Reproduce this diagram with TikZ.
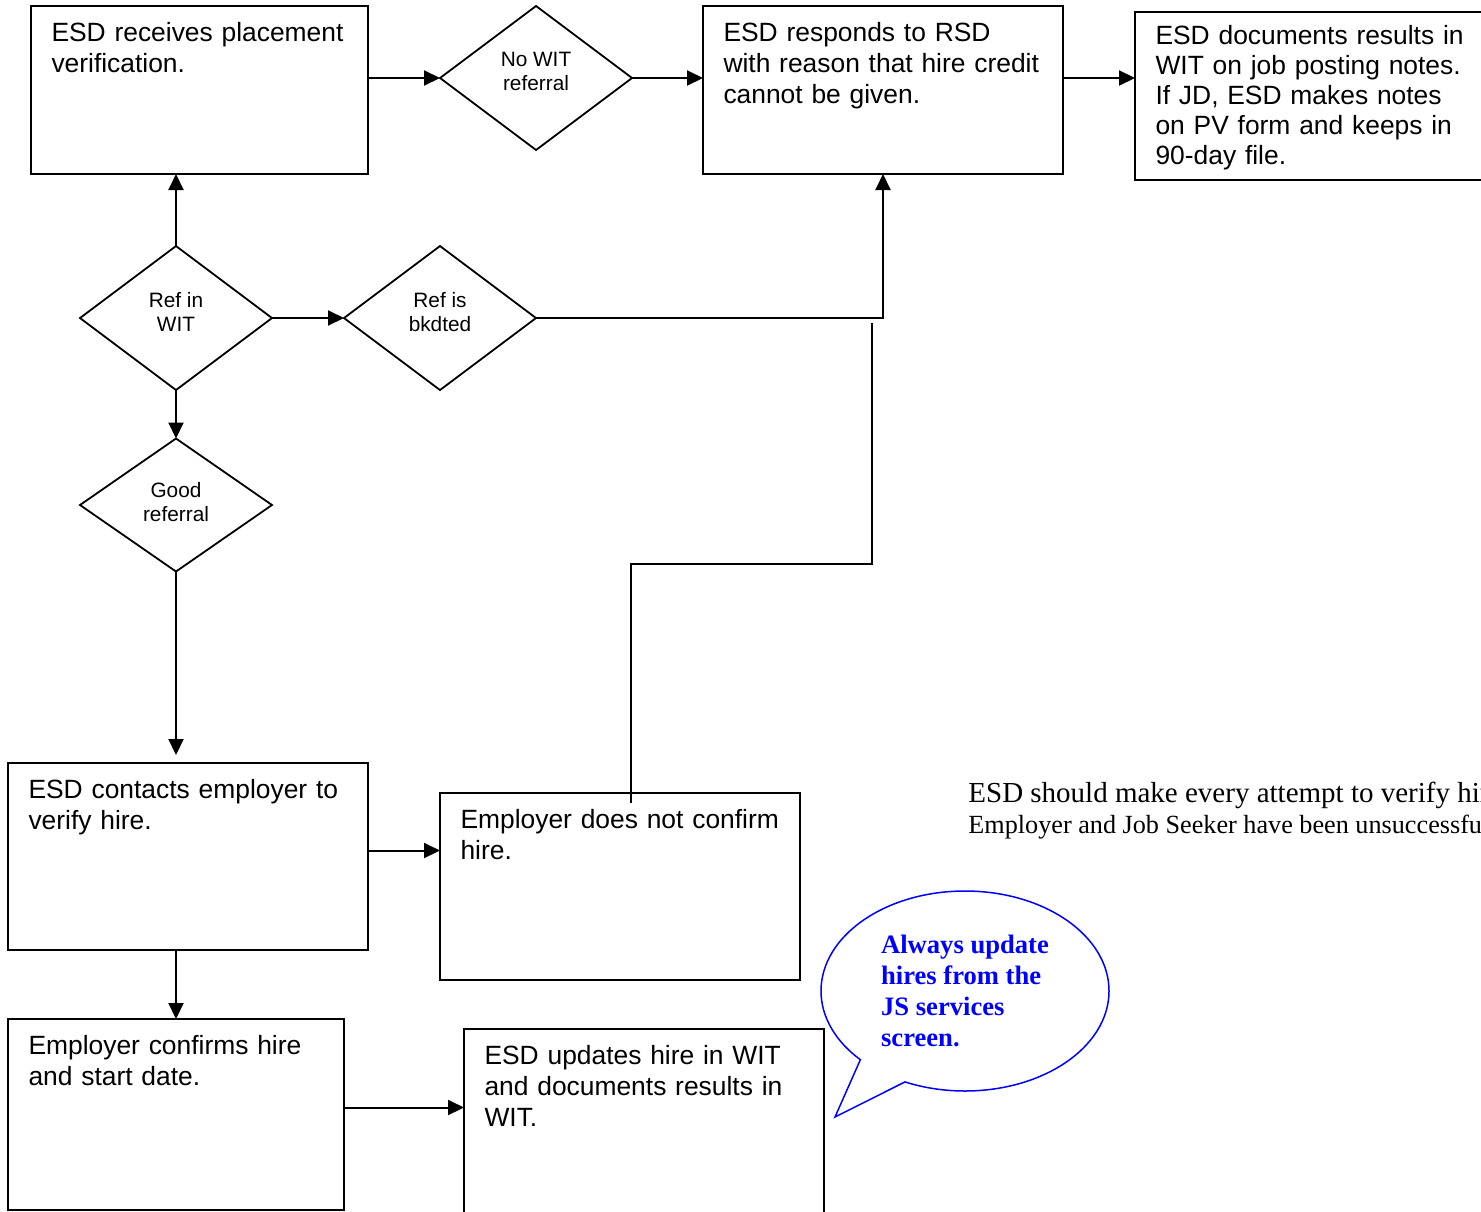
\documentclass[tikz,border=0pt]{standalone}
\usepackage{fontspec}
\usepackage{tikz}
\usepackage{xcolor}
\usetikzlibrary{arrows.meta, shapes.geometric, shapes.callouts}
\setmainfont{Liberation Serif}
\newfontfamily\arialfam{Liberation Sans}
\definecolor{noteblue}{HTML}{0000FF}
\hyphenpenalty=10000
\exhyphenpenalty=10000

\begin{document}
\begin{tikzpicture}[x=0.5pt, y=-0.5pt,
  procbox/.style={draw, line width=1pt, rectangle, anchor=north west, align=left,
    inner xsep=10.25pt, inner ysep=8pt, outer sep=0pt, text height=9.5pt,
    font=\arialfam\fontsize{13.2pt}{15.5pt}\selectfont},
  decision/.style={draw, line width=0.9pt, diamond, align=center, inner sep=0pt,
    outer sep=0pt, minimum width=96pt, minimum height=72pt, text depth=6.5pt,
    font=\arialfam\fontsize{10.4pt}{12pt}\selectfont},
  flow/.style={line width=1pt, -{Triangle[length=8pt, width=7.5pt]}},
  link/.style={line width=0.8pt},
  bubble/.style={ellipse callout, draw=noteblue, line width=0.75pt, text=noteblue,
    align=left, minimum width=144pt, minimum height=100pt, callout pointer arc=22,
    font=\bfseries\fontsize{13.3pt}{15.5pt}\selectfont},
  note/.style={anchor=base west, inner sep=0pt}]

  % Page frame
  \useasboundingbox (0,0) rectangle (1481,1211);
  \clip (0,0) rectangle (1481,1211);

  % Top row
  \node[procbox, text width=148pt, text depth=58.5pt] (recv) at (31,6)
    {ESD receives placement\\verification.};
  \node[decision] (nowit) at (536,78) {No WIT\\referral};
  \node[procbox, text width=159.5pt, text depth=58.5pt] (resp) at (703,6)
    {ESD responds to RSD\\with reason that hire credit\\cannot be given.};
  \node[procbox, text width=159.5pt, text height=8pt, text depth=60pt,
    font=\arialfam\fontsize{13.2pt}{15pt}\selectfont] (docs) at (1135,12)
    {ESD documents results in\\WIT on job posting notes.\\If JD, ESD makes notes\\on PV form and keeps in\\90-day file.};

  % Decisions
  \node[decision] (refwit) at (176,318) {Ref in\\WIT};
  \node[decision] (refbk) at (440,318) {Ref is\\bkdted};
  \node[decision, minimum height=66.5pt, text depth=3.5pt] (good) at (176,505) {Good\\referral};

  % Lower boxes
  \node[procbox, text width=159.5pt, text depth=68pt] (contact) at (8,763)
    {ESD contacts employer to\\verify hire.};
  \node[procbox, text width=159.5pt, text depth=68pt] (noconf) at (440,793)
    {Employer does not confirm\\hire.};
  \node[procbox, text width=147.5pt, text depth=70pt] (confirm) at (8,1019)
    {Employer confirms hire\\and start date.};
  \node[procbox, text width=159.5pt, text depth=68pt] (update) at (464,1029)
    {ESD updates hire in WIT\\and documents results in\\WIT.};

  % Side note and callout
  \node[note, font=\fontsize{14.5pt}{17pt}\selectfont] (note1) at (968,802)
    {ESD should make every attempt to verify hire};
  \node[note, font=\fontsize{13.1pt}{15pt}\selectfont] (note2) at (968,833)
    {Employer and Job Seeker have been unsuccessful};
  \node[bubble, callout absolute pointer={(835,1117)}] (hint) at (965,991)
    {Always update\\hires from the\\JS services\\screen.};

  % Connectors
  \draw[flow] (recv.east |- nowit.west) -- (nowit.west);
  \draw[flow] (nowit.east) -- (nowit.east -| resp.west);
  \draw[flow] (resp.east |- nowit.east) -- (docs.west |- nowit.east);
  \draw[flow] (refwit.north) -- (refwit.north |- recv.south);
  \draw[flow] (refwit.east) -- (refbk.west);
  \draw[flow] (refbk.east) -| (resp.south);
  \draw[flow] (refwit.south) -- (good.north);
  \draw[flow, shorten >=4pt] (good.south) -- (good.south |- contact.north);
  \draw[flow] ([yshift=3pt]contact.east) -- ([yshift=3pt]contact.east -| noconf.west);
  \draw[flow] (good.south |- contact.south) -- (good.south |- confirm.north);
  \draw[flow] ([yshift=3.5pt]confirm.east) -- ([yshift=3.5pt]confirm.east -| update.west);

  % Loop back from the unconfirmed hire
  \coordinate (gapend) at (872,323);
  \draw[link] ([xshift=5.5pt, yshift=-5pt]noconf.north) -- ++(0,-239) -| (gapend);

\end{tikzpicture}
\end{document}
